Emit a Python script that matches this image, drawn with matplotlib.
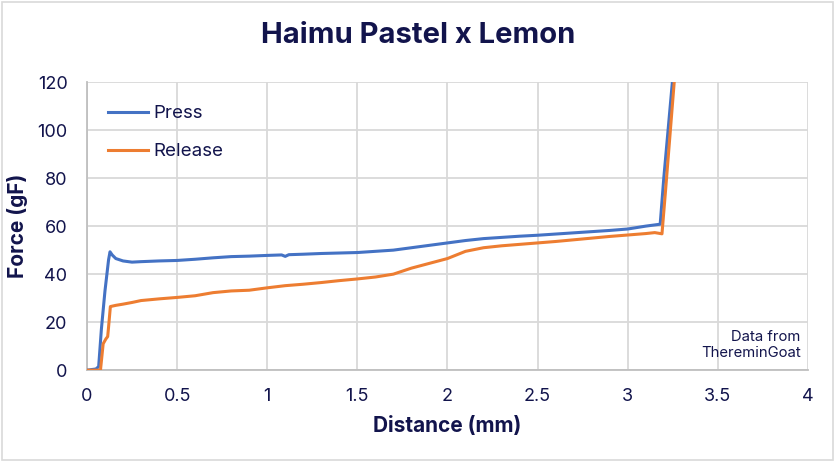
import matplotlib
matplotlib.use("Agg")
import matplotlib.pyplot as plt
from matplotlib.patches import Rectangle

plt.rcParams["font.family"] = ["Inter", "DejaVu Sans"]

# ---- data ----
press_x = [0.0, 0.05, 0.065, 0.08, 0.10, 0.12, 0.128, 0.14, 0.16, 0.20, 0.25, 0.30, 0.40,
           0.50, 0.60, 0.70, 0.80, 0.90, 1.00, 1.08, 1.10, 1.12, 1.20, 1.30, 1.40, 1.50, 1.60,
           1.70, 1.80, 1.90, 2.00, 2.10, 2.20, 2.30, 2.40, 2.50, 2.60, 2.70, 2.80,
           2.90, 3.00, 3.10, 3.18, 3.20, 3.25]
press_y = [0.0, 0.5, 1.5, 17, 33, 46, 49.3, 48, 46.5, 45.5, 45.0, 45.2, 45.5,
           45.7, 46.2, 46.8, 47.3, 47.5, 47.8, 48.0, 47.4, 48.1, 48.3, 48.6, 48.8, 49.0, 49.5,
           50.0, 51.0, 52.0, 53.0, 54.0, 54.8, 55.3, 55.8, 56.2, 56.7, 57.2, 57.7,
           58.2, 58.8, 60.0, 60.8, 80, 122]

release_x = [0.0, 0.075, 0.09, 0.105, 0.115, 0.12, 0.13, 0.16, 0.20, 0.25, 0.30,
             0.40, 0.50, 0.60, 0.70, 0.80, 0.90, 1.00, 1.10, 1.20, 1.30, 1.40,
             1.50, 1.60, 1.70, 1.80, 1.90, 2.00, 2.10, 2.20, 2.30, 2.40, 2.50,
             2.60, 2.70, 2.80, 2.90, 3.00, 3.10, 3.15, 3.19, 3.21, 3.26]
release_y = [0.0, 0.0, 11, 13, 14, 18, 26.5, 27.0, 27.5, 28.2, 29.0,
             29.7, 30.3, 31.0, 32.3, 33.0, 33.3, 34.3, 35.2, 35.8, 36.5, 37.3,
             38.0, 38.8, 40.0, 42.5, 44.5, 46.5, 49.5, 51.0, 51.8, 52.4, 53.0,
             53.6, 54.3, 55.0, 55.7, 56.3, 56.9, 57.3, 56.8, 75, 122]

x_ticks = [0, 0.5, 1, 1.5, 2, 2.5, 3, 3.5, 4]
x_tick_labels = ["0", "0.5", "1", "1.5", "2", "2.5", "3", "3.5", "4"]
y_ticks = [0, 20, 40, 60, 80, 100, 120]

NAVY = "#12144c"
GRID = "#d9d9d9"

fig = plt.figure(figsize=(8.36, 4.61), dpi=100)
ax = fig.add_axes([0.104, 0.197, 0.8625, 0.625])

ax.plot(press_x, press_y, color="#4472c4", lw=2.2, label="Press", zorder=3)
ax.plot(release_x, release_y, color="#ed7d31", lw=2.2, label="Release", zorder=3)

ax.set_xlim(0, 4)
ax.set_ylim(0, 120)
ax.set_xticks(x_ticks)
ax.set_xticklabels(x_tick_labels)
ax.set_yticks(y_ticks)
ax.grid(True, color=GRID, lw=1.3)
ax.set_axisbelow(True)
for s in ["top", "right"]:
    ax.spines[s].set_visible(False)
for s in ["left", "bottom"]:
    ax.spines[s].set_color("#bfbfbf")
    ax.spines[s].set_linewidth(1.3)
ax.tick_params(length=0, labelsize=13, labelcolor=NAVY)
ax.tick_params(axis="x", pad=13)
ax.tick_params(axis="y", pad=14)

ax.set_xlabel("Distance (mm)", fontsize=15, fontweight="bold", color=NAVY, labelpad=8)
ax.set_ylabel("Force (gF)", fontsize=15, fontweight="bold", color=NAVY, labelpad=7)

leg = ax.legend(loc="upper left", frameon=False, fontsize=13.5, handlelength=2.15,
                handletextpad=0.27, labelspacing=1.12, borderpad=0, borderaxespad=0,
                bbox_to_anchor=(0.029, 0.92))
for t in leg.get_texts():
    t.set_color(NAVY)

ax.text(0.99, 0.035, "Data from\nThereminGoat", transform=ax.transAxes, ha="right",
        va="bottom", fontsize=10.7, color=NAVY, linespacing=1.15)

fig.text(0.5, 0.924, "Haimu Pastel x Lemon", fontsize=21, fontweight="bold", color=NAVY,
         ha="center", va="center")

fig.patches.append(Rectangle((0.002, 0.003), 0.995, 0.993, transform=fig.transFigure,
                             fill=False, ec="#d9d9d9", lw=1.2))

fig.savefig("out.png", dpi=100)
